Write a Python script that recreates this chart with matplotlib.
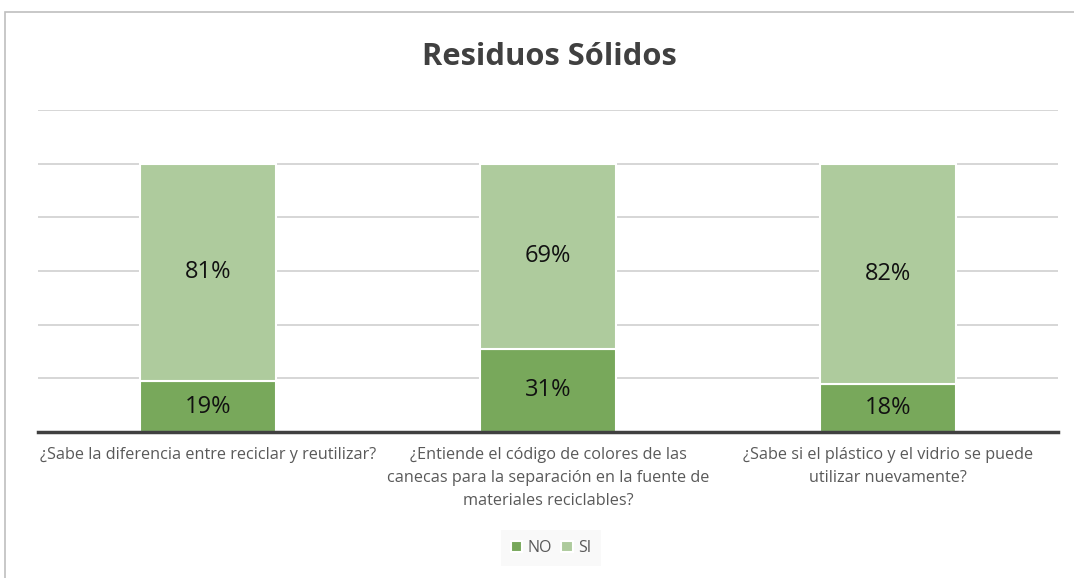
import matplotlib
matplotlib.use("Agg")
import matplotlib.pyplot as plt
from matplotlib.patches import Rectangle

categories = [
    "¿Sabe la diferencia entre reciclar y reutilizar?",
    "¿Entiende el código de colores de las\ncanecas para la separación en la fuente de\nmateriales reciclables?",
    "¿Sabe si el plástico y el vidrio se puede\nutilizar nuevamente?",
]
no_vals = [19, 31, 18]
si_vals = [81, 69, 82]
series_names = ["NO", "SI"]

plt.rcParams['font.family'] = ['Open Sans', 'DejaVu Sans']

W, H = 1074, 578
fig = plt.figure(figsize=(W/100, H/100), dpi=100)
fig.patch.set_facecolor("white")

# outer chart border
fig.add_artist(Rectangle((4.5/W, -0.1), 1.2, (H-11.5)/H + 0.1, transform=fig.transFigure,
                         fill=False, edgecolor="#BFBFBF", linewidth=1.2))

ax_l, ax_r, ax_t, ax_b = 38, 1058, 110, 432
ax = fig.add_axes([ax_l/W, 1-ax_b/H, (ax_r-ax_l)/W, (ax_b-ax_t)/H])

c_no = "#78A85B"
c_si = "#AECB9D"
x = list(range(len(categories)))
ax.bar(x, no_vals, width=0.4, color=c_no, edgecolor="white", linewidth=1.5, label=series_names[0], zorder=3)
ax.bar(x, si_vals, width=0.4, bottom=no_vals, color=c_si, edgecolor="white", linewidth=1.5, label=series_names[1], zorder=3)

for i in x:
    ax.text(i, no_vals[i]/2, f"{no_vals[i]}%", ha="center", va="center", fontsize=17, color="#111111", zorder=4)
    ax.text(i, no_vals[i] + si_vals[i]/2, f"{si_vals[i]}%", ha="center", va="center", fontsize=17, color="#111111", zorder=4)

ax.set_xlim(-0.5, 2.5)
ax.set_ylim(0, 120)
ax.set_yticks(range(0, 121, 20))
ax.yaxis.grid(True, color="#D0D0D0", linewidth=1.2, zorder=0)
ax.tick_params(axis="y", left=False, labelleft=False)
ax.tick_params(axis="x", bottom=False, pad=7)
ax.set_xticks(x)
ax.set_xticklabels(categories, fontsize=11.7, color="#595959", linespacing=1.62)
for s in ["left", "right", "top"]:
    ax.spines[s].set_visible(False)
ax.spines["bottom"].set_color("#404040")
ax.spines["bottom"].set_linewidth(2.5)
ax.spines["bottom"].set_zorder(5)

fig.text(549/W, 1-57/H, "Residuos Sólidos", ha="center", va="center", fontsize=22.2, fontweight="bold", color="#404040")

leg = fig.legend(loc="center", bbox_to_anchor=(551/W, 1-548/H), ncol=2, frameon=True,
                 fontsize=11.5, handlelength=0.7, handleheight=0.7, handletextpad=0.35,
                 columnspacing=0.6, borderpad=0.6, fancybox=False)
leg.get_frame().set_facecolor("#F8F8F8")
leg.get_frame().set_edgecolor("none")
for t in leg.get_texts():
    t.set_color("#595959")

fig.savefig("out.png", dpi=100, facecolor="white")
